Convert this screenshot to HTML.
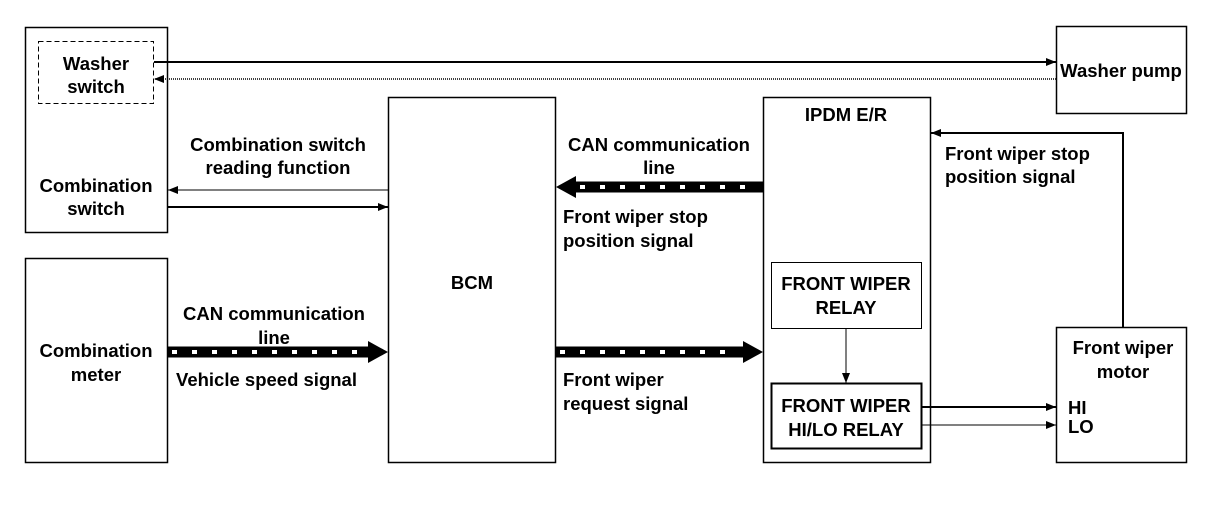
<!DOCTYPE html>
<html><head><meta charset="utf-8"><style>
body{margin:0;background:#fff}
svg{display:block}
text{font-family:"Liberation Sans",sans-serif;font-size:18.5px;font-weight:bold;fill:#000}
</style></head><body>
<svg width="1216" height="512" viewBox="0 0 1216 512">
<defs>
<marker id="a" markerWidth="10" markerHeight="8" refX="10" refY="4" orient="auto" markerUnits="userSpaceOnUse"><path d="M0,0L10,4L0,8z"/></marker>
</defs>
<g fill="none" stroke="#000">
<rect x="25.5" y="27.5" width="142" height="205" stroke-width="1.5"/>
<rect x="38.5" y="41.5" width="115" height="62" stroke-dasharray="5,3"/>
<rect x="1056.5" y="26.5" width="130" height="87" stroke-width="1.5"/>
<rect x="388.5" y="97.5" width="167" height="365" stroke-width="1.5"/>
<rect x="763.5" y="97.5" width="167" height="365" stroke-width="1.5"/>
<rect x="25.5" y="258.5" width="142" height="204" stroke-width="1.5"/>
<rect x="1056.5" y="327.5" width="130" height="135" stroke-width="1.5"/>
<rect x="771.5" y="262.5" width="150" height="66"/>
<rect x="771.5" y="383.5" width="150" height="65" stroke-width="2"/>
<line x1="154" y1="62" x2="1056" y2="62" stroke-width="2" marker-end="url(#a)"/>
<line x1="1056" y1="79" x2="154" y2="79" stroke-dasharray="1,1" stroke-width="1.5" marker-end="url(#a)"/>
<line x1="388" y1="190" x2="168" y2="190" marker-end="url(#a)"/>
<line x1="168" y1="207" x2="388" y2="207" stroke-width="2" marker-end="url(#a)"/>
<polyline points="1123,327 1123,133 931,133" stroke-width="2" marker-end="url(#a)"/>
<line x1="922" y1="407" x2="1056" y2="407" stroke-width="2" marker-end="url(#a)"/>
<line x1="922" y1="425" x2="1056" y2="425" marker-end="url(#a)"/>
<line x1="846" y1="329" x2="846" y2="383" marker-end="url(#a)"/>
<line x1="168" y1="352" x2="370" y2="352" stroke-width="11"/>
<line x1="172" y1="352" x2="368" y2="352" stroke="#fff" stroke-width="4" stroke-dasharray="5,15"/>
<line x1="556" y1="352" x2="745" y2="352" stroke-width="11"/>
<line x1="560" y1="352" x2="740" y2="352" stroke="#fff" stroke-width="4" stroke-dasharray="5,15"/>
<line x1="574" y1="187" x2="763" y2="187" stroke-width="11"/>
<line x1="580" y1="187" x2="760" y2="187" stroke="#fff" stroke-width="4" stroke-dasharray="5,15"/>
</g>
<path d="M368,341L388,352L368,363z"/>
<path d="M743,341L763,352L743,363z"/>
<path d="M576,176L556,187L576,198z"/>
<g text-anchor="middle">
<text x="96" y="70">Washer</text><text x="96" y="93">switch</text>
<text x="96" y="192">Combination</text><text x="96" y="215">switch</text>
<text x="96" y="357">Combination</text><text x="96" y="381">meter</text>
<text x="278" y="151">Combination switch</text><text x="278" y="174">reading function</text>
<text x="274" y="320">CAN communication</text><text x="274" y="344">line</text>
<text x="472" y="289">BCM</text>
<text x="659" y="151">CAN communication</text><text x="659" y="174">line</text>
<text x="846" y="121">IPDM E/R</text>
<text x="846" y="290">FRONT WIPER</text><text x="846" y="314">RELAY</text>
<text x="846" y="412">FRONT WIPER</text><text x="846" y="436">HI/LO RELAY</text>
<text x="1123" y="354">Front wiper</text><text x="1123" y="378">motor</text>
<text x="1121" y="77">Washer pump</text>
</g>
<text x="176" y="386">Vehicle speed signal</text>
<text x="563" y="223">Front wiper stop</text><text x="563" y="247">position signal</text>
<text x="563" y="386">Front wiper</text><text x="563" y="410">request signal</text>
<text x="945" y="160">Front wiper stop</text><text x="945" y="183">position signal</text>
<text x="1068" y="414">HI</text><text x="1068" y="433">LO</text>
</svg>
</body></html>
